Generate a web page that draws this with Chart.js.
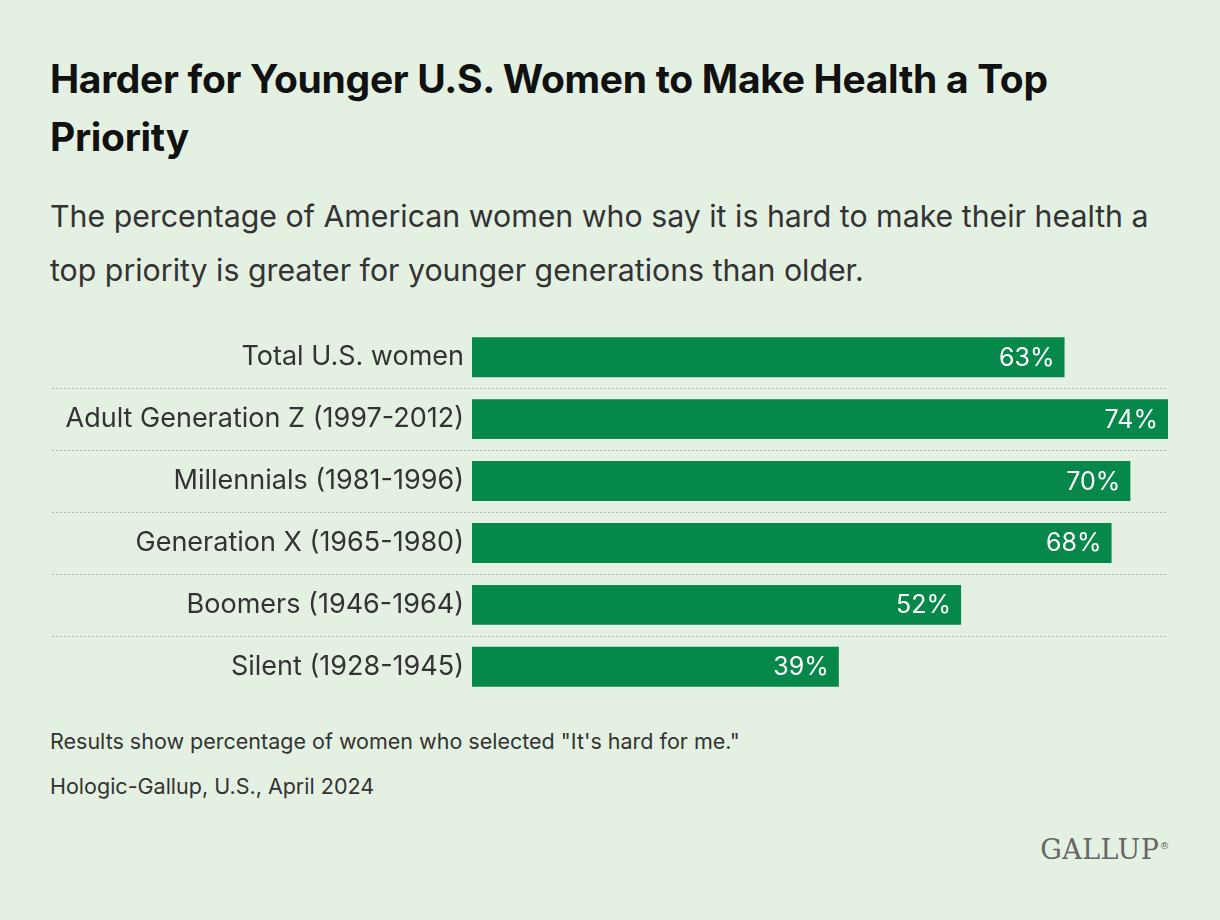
<!DOCTYPE html>
<html><head><meta charset="utf-8">
<script src="https://cdn.jsdelivr.net/npm/chart.js@4"></script>
<style>
body{margin:0;background:#e4f1e2;width:1220px;height:920px;overflow:hidden;font-family:Inter,"Noto Sans",sans-serif;color:#111;}
.t{position:absolute;left:50px;}
#title{top:50px;font-size:39px;font-weight:700;line-height:58px;width:1150px;letter-spacing:-0.3px}
#sub{top:189px;font-size:30.3px;line-height:54px;color:#333;width:1150px}
#f1{top:728px;font-size:21.5px;color:#333}
#f2{top:773px;font-size:21.5px;color:#333}
#logo{position:absolute;right:50px;top:834px;font-family:"DejaVu Serif","Liberation Serif",serif;font-size:27px;color:#666;letter-spacing:0.5px}
#c{position:absolute;left:0;top:310px}
</style></head><body>
<div class="t" id="title">Harder for Younger U.S. Women to Make Health a Top<br>Priority</div>
<div class="t" id="sub">The percentage of American women who say it is hard to make their health a<br>top priority is greater for younger generations than older.</div>
<canvas id="c" width="1220" height="404"></canvas>
<div class="t" id="f1">Results show percentage of women who selected "It's hard for me."</div>
<div class="t" id="f2">Hologic-Gallup, U.S., April 2024</div>
<div id="logo">GALLUP<sup style="font-size:10px">®</sup></div>
<script>
const categories=["Total U.S. women","Adult Generation Z (1997-2012)","Millennials (1981-1996)","Generation X (1965-1980)","Boomers (1946-1964)","Silent (1928-1945)"];
const values=[63,74,70,68,52,39];
const labelPlugin={id:'lbl',afterDatasetsDraw(ch){const c=ch.ctx;const m=ch.getDatasetMeta(0);c.save();c.fillStyle='#fff';c.font='25px Inter, sans-serif';c.textAlign='right';c.textBaseline='middle';m.data.forEach((b,i)=>{c.fillText(values[i]+'%',b.x-10,b.y+1);});c.restore();}};
const sepPlugin={id:'sep',beforeDatasetsDraw(ch){const c=ch.ctx,y=ch.scales.y;c.save();c.strokeStyle='#aab8a9';c.lineWidth=1;c.setLineDash([2,2]);for(let i=0;i<categories.length-1;i++){const yy=Math.round((y.getPixelForValue(i)+y.getPixelForValue(i+1))/2)+0.5;c.beginPath();c.moveTo(52,yy);c.lineTo(1168,yy);c.stroke();}c.restore();}};
new Chart(document.getElementById('c'),{type:'bar',data:{labels:categories,datasets:[{data:values,backgroundColor:'#06884a',barPercentage:0.645,categoryPercentage:1}]},
options:{indexAxis:'y',responsive:false,animation:false,layout:{padding:{left:50,right:52,top:0,bottom:0}},
plugins:{legend:{display:false},tooltip:{enabled:false}},
scales:{x:{min:0,max:74,display:false},
y:{afterFit(s){s.width=422;},ticks:{color:'#333',font:{size:27,family:'Inter, sans-serif'},padding:0},border:{display:false},grid:{display:false}}}},
plugins:[sepPlugin,labelPlugin]});
</script></body></html>
